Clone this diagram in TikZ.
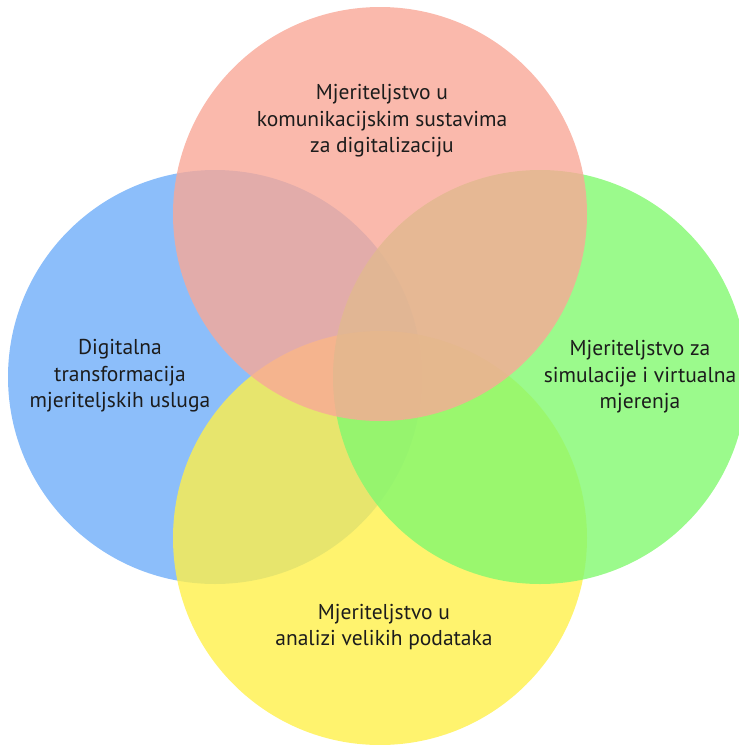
\documentclass[tikz,border=0pt]{standalone}
\usepackage{fontspec}
\setmainfont{PT Sans}
\usetikzlibrary{positioning}
\definecolor{setBlue}{RGB}{111, 174, 249}
\definecolor{setRed}{RGB}{249, 168, 151}
\definecolor{setGreen}{RGB}{130, 249, 111}
\definecolor{setYellow}{RGB}{255, 240, 74}
\definecolor{setInk}{RGB}{28, 28, 28}
\tikzset{
  setdisc/.style={circle, draw=none, fill opacity=0.8, minimum size=414pt, inner sep=0pt},
  setlabel/.style={align=center, text=setInk, font=\fontsize{21.5pt}{26.5pt}\selectfont}
}
\begin{document}
\begin{tikzpicture}[x=1pt, y=-1pt]
  \useasboundingbox (0,0) rectangle (739,745);
  % the four sets, lowest first
  \node[setdisc, fill=setBlue] (digital) at (215,377) {};
  \node[setdisc, fill=setYellow] (bigdata) at (380,538) {};
  \node[setdisc, fill=setGreen] (simul) at (540,377) {};
  \node[setdisc, fill=setRed] (komun) at (380,214) {};
  % labels
  \node[setlabel] (komunText) at (382,121) {Mjeriteljstvo u\\komunikacijskim sustavima\\za digitalizaciju};
  \node[setlabel] (digitalText) at (120,376) {Digitalna\\transformacija\\mjeriteljskih usluga};
  \node[setlabel] (simulText) at (640,377) {Mjeriteljstvo za\\simulacije i virtualna\\mjerenja};
  \node[setlabel] (bigdataText) at (384,627) {Mjeriteljstvo u\\analizi velikih podataka};
\end{tikzpicture}
\end{document}
